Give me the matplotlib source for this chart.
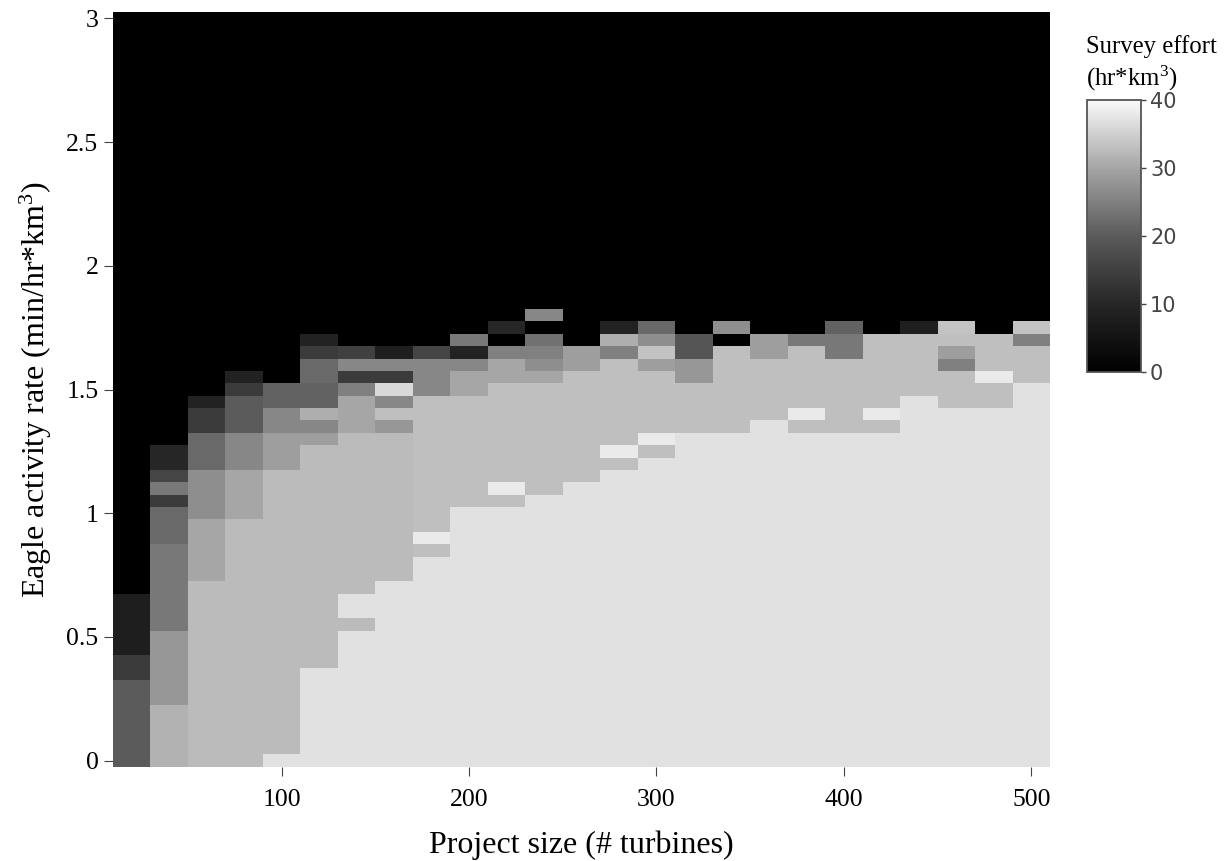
import matplotlib
matplotlib.use("Agg")
import matplotlib.pyplot as plt
from matplotlib.colors import LinearSegmentedColormap
import numpy as np

# project size bins (turbines), centres
project_size = np.arange(20, 501, 20)
# activity rate rows
activity_rate = np.arange(0, 61) * 0.05

# effort per column, from activity rate 0 upward, everything above is 0
col_020 = [20]*7 + [14]*2 + [8]*5
col_040 = [31.5]*5 + [28]*6 + [24]*7 + [22]*3 + [14, 24, 16, 10, 10]
col_060 = [32.5]*15 + [30]*5 + [27]*4 + [22]*3 + [14]*2 + [9]
col_080 = [32.5]*20 + [30]*4 + [26]*3 + [20]*3 + [14, 9]
col_100 = [37] + [32.5]*23 + [29]*3 + [26]*2 + [21]*2
col_120 = [37]*8 + [32.5]*18 + [29, 26, 31] + [21]*2 + [22]*2 + [14, 9]
col_140 = [37]*11 + [32.5] + [37]*2 + [32.5]*13 + [30]*3 + [25, 14, 26, 15]
col_160 = [37]*15 + [32.5]*12 + [28, 33, 26, 36, 14, 26, 8]
col_180 = [37]*17 + [33, 38] + [33]*11 + [26]*3 + [16]
col_200 = [37]*21 + [33]*9 + [30]*2 + [26, 9, 24]
col_220 = [37]*21 + [33, 38] + [33]*8 + [30]*2 + [25, 0, 10]
col_240 = [37]*22 + [33]*9 + [30, 27, 25, 23, 0, 26]
col_260 = [37]*23 + [33]*9 + [29]*2
col_280 = [37]*24 + [33, 38] + [33]*7 + [25, 31, 9]
col_300 = [37]*25 + [33, 38] + [33]*5 + [29, 33.5, 27, 22]
col_320 = [37]*27 + [33]*4 + [28]*2 + [19]*2
col_340 = [37]*27 + [33]*7 + [0, 27]
col_360 = [37]*28 + [33]*5 + [29]*2
col_380 = [37]*27 + [33, 38] + [33]*5 + [24]
col_400 = [37]*27 + [33]*6 + [24]*2 + [21]
col_420 = [37]*27 + [33, 38] + [33]*6
col_440 = [37]*30 + [33]*5 + [8]
col_460 = [37]*29 + [33]*3 + [25, 29, 33, 33.5]
col_480 = [37]*29 + [33]*2 + [38] + [33]*3
col_500 = [37]*31 + [33]*3 + [25, 33.5]

columns = [col_020, col_040, col_060, col_080, col_100, col_120, col_140, col_160,
           col_180, col_200, col_220, col_240, col_260, col_280, col_300, col_320,
           col_340, col_360, col_380, col_400, col_420, col_440, col_460, col_480, col_500]

cbar_ticks = [0, 10, 20, 30, 40]
x_ticks = [100, 200, 300, 400, 500]
y_ticks = [0, 0.5, 1, 1.5, 2, 2.5, 3]
y_labels = ['0', '0.5', '1', '1.5', '2', '2.5', '3']

effort = np.zeros((len(activity_rate), len(project_size)))
for j, col in enumerate(columns):
    effort[:len(col), j] = col

plt.rcParams['font.family'] = ['Liberation Serif', 'DejaVu Serif']
plt.rcParams['mathtext.default'] = 'regular'

# colour bar in the picture is dark-heavy, not a straight grey ramp
cmap = LinearSegmentedColormap.from_list('effort', [
    (0.0, '#000000'), (0.25, '#262626'), (0.5, '#5a5a5a'),
    (0.75, '#a5a5a5'), (1.0, '#fafafa')])

W, H = 1225, 861
fig = plt.figure(figsize=(W / 100, H / 100), dpi=100)
ax = fig.add_axes([113 / W, 1 - 766.8 / H, (1050 - 113) / W, (766.8 - 12.2) / H])

mesh = ax.pcolormesh(project_size, activity_rate, effort, cmap=cmap, vmin=0, vmax=40,
                     shading='nearest', rasterized=True)
ax.set_xlim(10, 510)
ax.set_ylim(-0.025, 3.025)
for s in ax.spines.values():
    s.set_visible(False)

ax.set_xticks(x_ticks)
ax.set_yticks(y_ticks)
ax.set_yticklabels(y_labels)
ax.tick_params(axis='both', length=6.5, width=0.8, color='#444444', labelsize=18.5)
ax.tick_params(axis='x', pad=9.5)
ax.tick_params(axis='y', pad=4)
ax.set_xlabel('Project size (# turbines)', fontsize=23, labelpad=14)
ax.set_ylabel('Eagle activity rate (min/hr*km$^3$)', fontsize=23, labelpad=9)

cax = fig.add_axes([1087 / W, 1 - 372 / H, (1141 - 1087) / W, (372 - 100) / H])
cb = fig.colorbar(mesh, cax=cax, ticks=cbar_ticks)
cb.outline.set_edgecolor('#555555')
cb.outline.set_linewidth(1.3)
cb.ax.tick_params(length=3.5, width=1, color='#444444', pad=3)
for t in cb.ax.get_yticklabels():
    t.set_family('DejaVu Sans')
    t.set_fontsize(15)
    t.set_color('#444444')

fig.text(1086 / W, 1 - 93 / H, 'Survey effort\n(hr*km$^3$)', fontsize=17.8, va='bottom', ha='left',
         linespacing=1.25)

fig.savefig('out.png', dpi=100)
